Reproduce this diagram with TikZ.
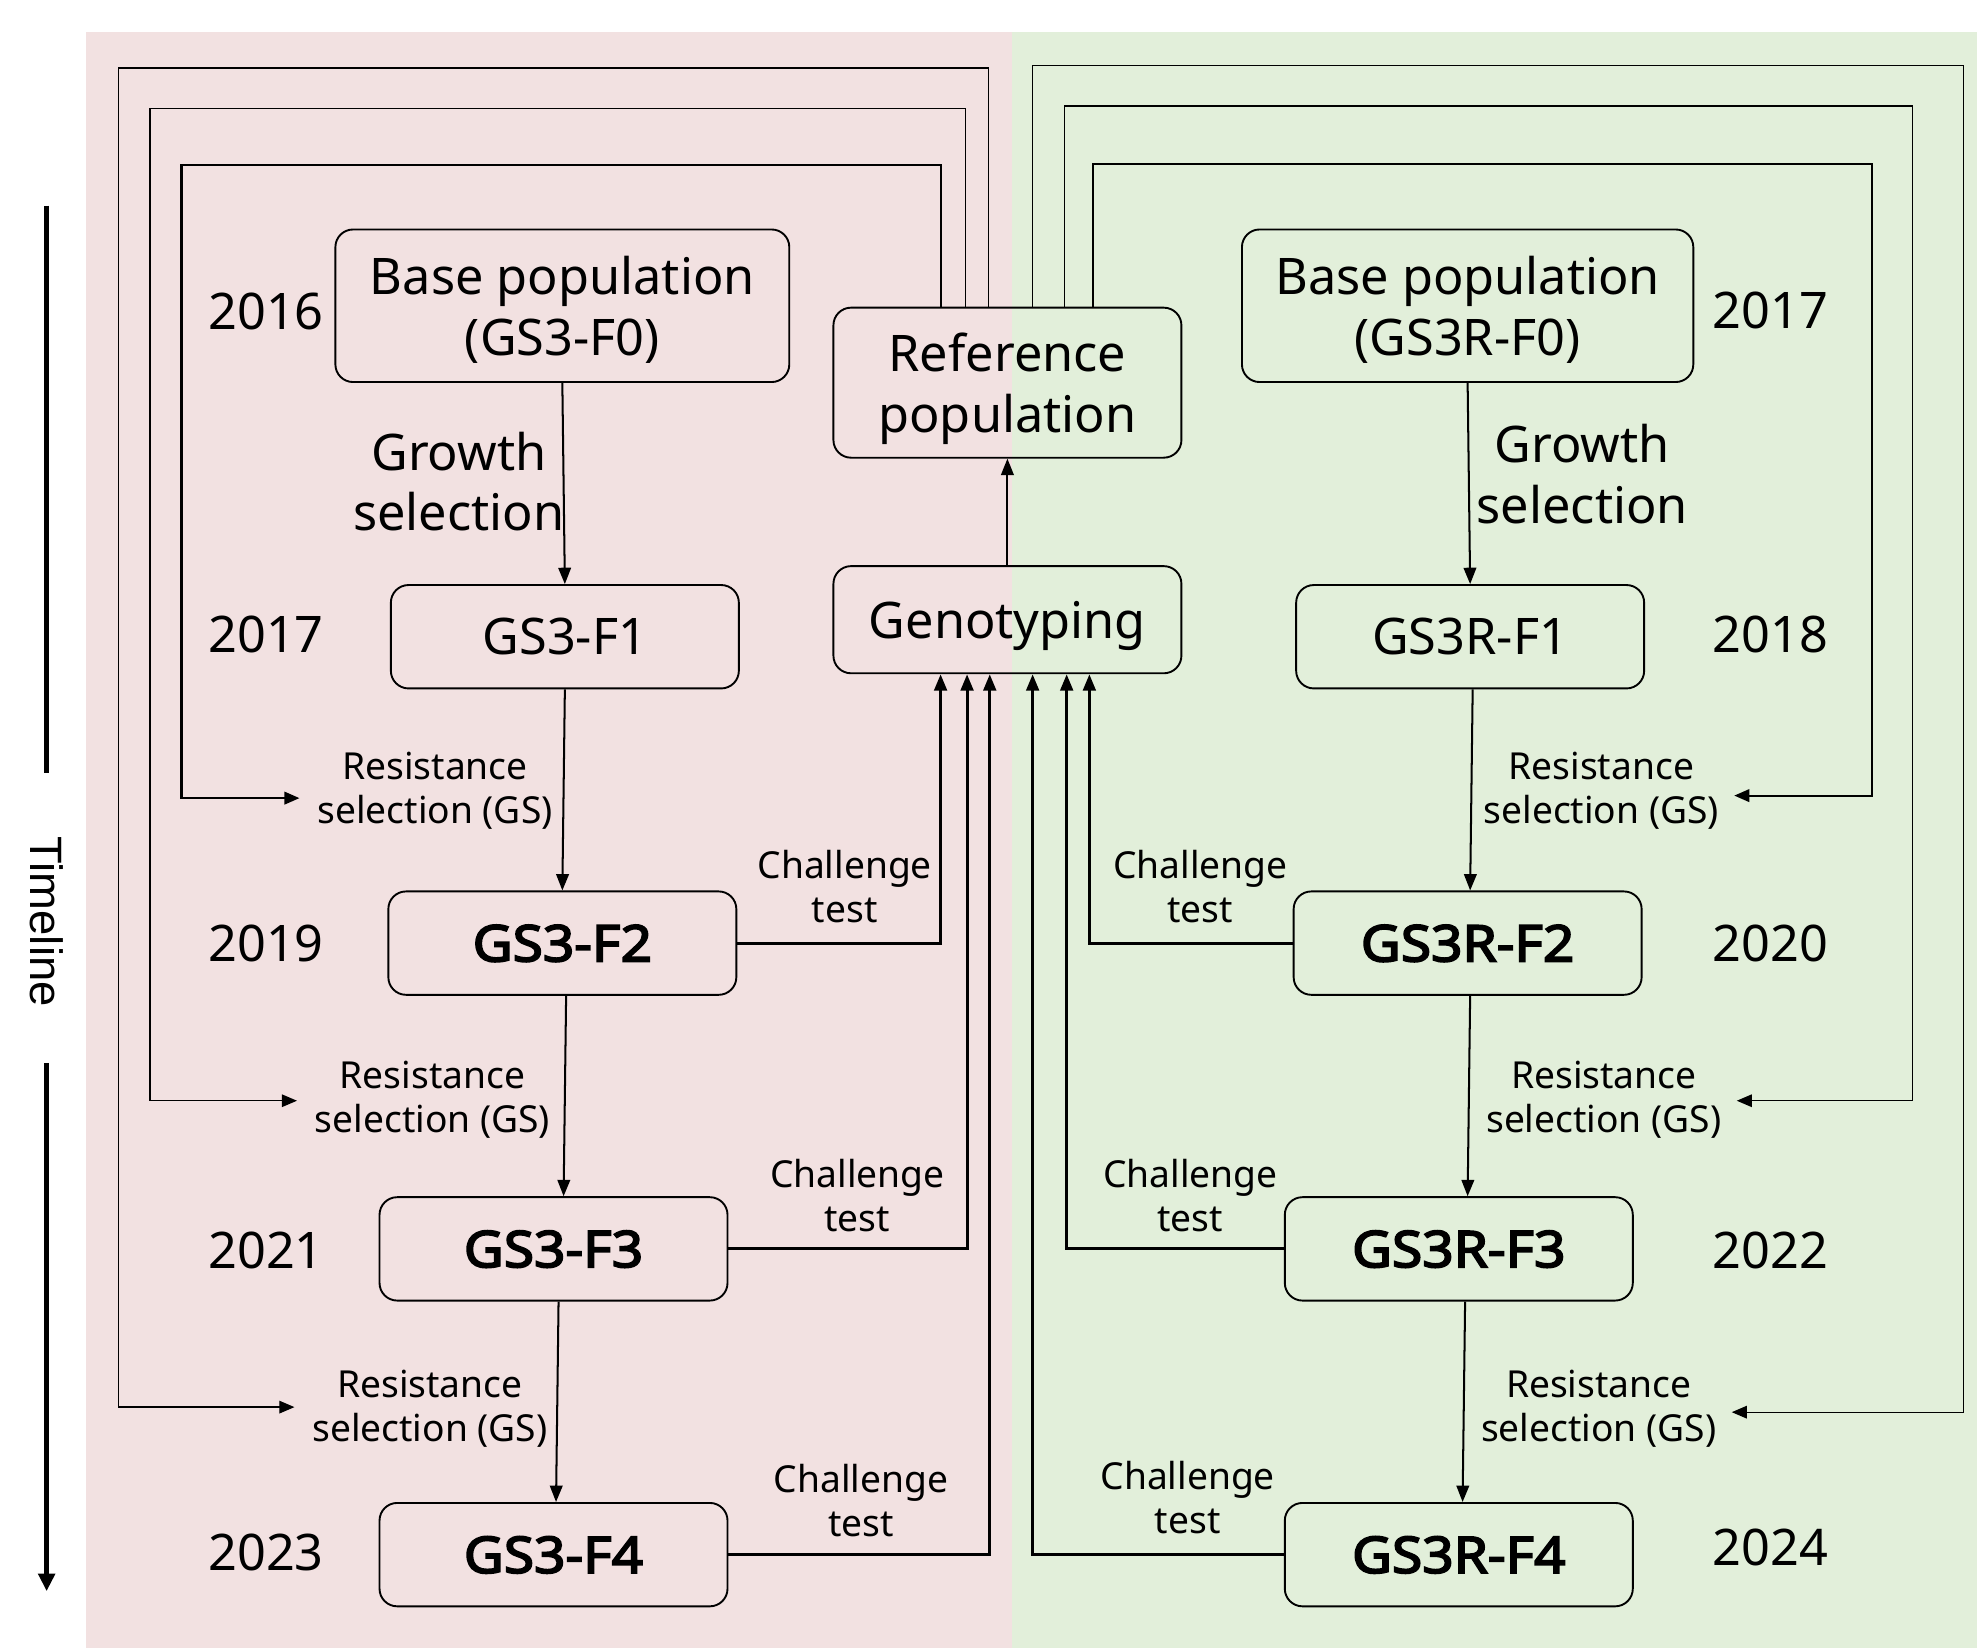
\documentclass[tikz,border=0pt]{standalone}
\usepackage{fontspec}
\setmainfont{Noto Sans}[AutoFakeBold=3]
\newfontfamily\bfx{Noto Sans}[FakeBold=3.5,FakeStretch=1.09]
\newfontfamily\tlfont{Liberation Sans}
\usetikzlibrary{arrows.meta}
\definecolor{pinkbg}{RGB}{242,225,225}
\definecolor{greenbg}{RGB}{226,239,218}
\begin{document}
\begin{tikzpicture}[x=1pt,y=-1pt,
  big/.style={font=\fontsize{40}{48}\selectfont, align=center, inner sep=0pt},
  small/.style={font=\fontsize{29.5}{35}\selectfont, align=center, inner sep=0pt},
  box/.style={draw, rounded corners=14pt, line width=1.5pt, inner sep=0pt,
    minimum width=276pt, minimum height=82pt, big, text depth=0pt},
  bbox/.style={box, font=\bfx\fontsize{40}{48}\selectfont},
  tip/.style={-{Triangle[length=13pt,width=10pt]}},
  flow/.style={tip, line width=1.6pt},
  chal/.style={tip, line width=2.4pt},
  fb/.style={-{Triangle[length=12pt,width=10pt]}, line width=1pt},
  fbin/.style={fb, line width=1.7pt},
]
\useasboundingbox (0,0) rectangle (1568,1307);
\fill[pinkbg] (68,25) rectangle (803,1307);
\fill[greenbg] (803,25) rectangle (1568,1307);

% boxes
\node[box, minimum width=360pt, minimum height=121pt] (b0) at (446,242.5) {Base population\\(GS3-F0)};
\node[box, minimum width=276pt, minimum height=119pt] (ref) at (799,303.5) {Reference\\population};
\node[box, minimum height=85pt] (geno) at (799,491.5) {Genotyping};
\node[box, minimum width=358pt, minimum height=121pt] (r0) at (1164,242.5) {Base population\\(GS3R-F0)};
\node[box] (f1) at (448,505) {GS3-F1};
\node[bbox] (f2) at (446,748) {GS3-F2};
\node[bbox] (f3) at (439,990.5) {GS3-F3};
\node[bbox] (f4) at (439,1233) {GS3-F4};
\node[box] (g1) at (1166,505) {GS3R-F1};
\node[bbox] (g2) at (1164,748) {GS3R-F2};
\node[bbox] (g3) at (1157,990.5) {GS3R-F3};
\node[bbox] (g4) at (1157,1233) {GS3R-F4};

% years
\node[big] (y16) at (211,247) {2016};
\node[big] (y17l) at (211,503) {2017};
\node[big] (y19) at (211,748) {2019};
\node[big] (y21) at (211,992) {2021};
\node[big] (y23) at (211,1231) {2023};
\node[big] (y17r) at (1404,246) {2017};
\node[big] (y18) at (1404,503) {2018};
\node[big] (y20) at (1404,748) {2020};
\node[big] (y22) at (1404,992) {2022};
\node[big] (y24) at (1404,1227) {2024};

% labels
\node[big] (gl) at (364,382) {Growth\\selection};
\node[big] (gr) at (1255,376) {Growth\\selection};
\node[small] (rl1) at (345,627) {Resistance\\selection (GS)};
\node[small] (rl2) at (343,872) {Resistance\\selection (GS)};
\node[small] (rl3) at (341,1117) {Resistance\\selection (GS)};
\node[small] (rr1) at (1270,627) {Resistance\\selection (GS)};
\node[small] (rr2) at (1272,872) {Resistance\\selection (GS)};
\node[small] (rr3) at (1268,1117) {Resistance\\selection (GS)};
\node[small] (cl1) at (670,703) {Challenge\\test};
\node[small] (cl2) at (680,948) {Challenge\\test};
\node[small] (cl3) at (683,1190) {Challenge\\test};
\node[small] (cr1) at (952,703) {Challenge\\test};
\node[small] (cr2) at (944,948) {Challenge\\test};
\node[small] (cr3) at (942,1188) {Challenge\\test};

% main flow
\draw[flow] (b0.south) -- (f1.north);
\draw[flow] (f1.south) -- (f2.north);
\draw[flow] ([xshift=3pt]f2.south) -- ([xshift=8pt]f3.north);
\draw[flow] ([xshift=4pt]f3.south) -- ([xshift=2pt]f4.north);
\draw[flow] (r0.south) -- (g1.north);
\draw[flow] ([xshift=2pt]g1.south) -- ([xshift=2pt]g2.north);
\draw[flow] ([xshift=2pt]g2.south) -- ([xshift=7pt]g3.north);
\draw[flow] ([xshift=5pt]g3.south) -- ([xshift=3pt]g4.north);
\draw[flow] (geno.north) -- (ref.south);

% challenge tests
\draw[chal] (f2.east) -| ([xshift=-53pt]geno.south);
\draw[chal] (f3.east) -| ([xshift=-32pt]geno.south);
\draw[chal] (f4.east) -| ([xshift=-14pt]geno.south);
\draw[chal] (g2.west) -| ([xshift=65pt]geno.south);
\draw[chal] (g3.west) -| ([xshift=47pt]geno.south);
\draw[chal] (g4.west) -| ([xshift=20pt]geno.south);

% feedback to resistance selection
\draw[fbin] ([xshift=-53pt]ref.north) |- (144,131) |- ([xshift=-14pt,yshift=-6pt]rl1.west);
\draw[fb] ([xshift=-33pt]ref.north) |- (119,86) |- ([xshift=-14pt,yshift=-1pt]rl2.west);
\draw[fb] ([xshift=-15pt]ref.north) |- (94,54) |- ([xshift=-14pt,yshift=1pt]rl3.west);
\draw[fbin] ([xshift=68pt]ref.north) |- (1485,130) |- ([xshift=12pt,yshift=-4pt]rr1.east);
\draw[fb] ([xshift=45pt]ref.north) |- (1517,84) |- ([xshift=12pt,yshift=-1pt]rr2.east);
\draw[fb] ([xshift=20pt]ref.north) |- (1557,52) |- ([xshift=12pt,yshift=-3pt]rr3.east);

% timeline
\node[font=\tlfont\fontsize{36}{40}\selectfont, rotate=-90, inner sep=0pt] (tl) at (37,731) {Timeline};
\coordinate (tla) at (37,163);
\coordinate (tlb) at (37,613);
\coordinate (tlc) at (37,843);
\coordinate (tld) at (37,1262);
\draw[line width=4pt] (tla) -- (tlb);
\draw[line width=4pt, -{Triangle[length=14pt,width=13pt]}] (tlc) -- (tld);
\end{tikzpicture}
\end{document}
